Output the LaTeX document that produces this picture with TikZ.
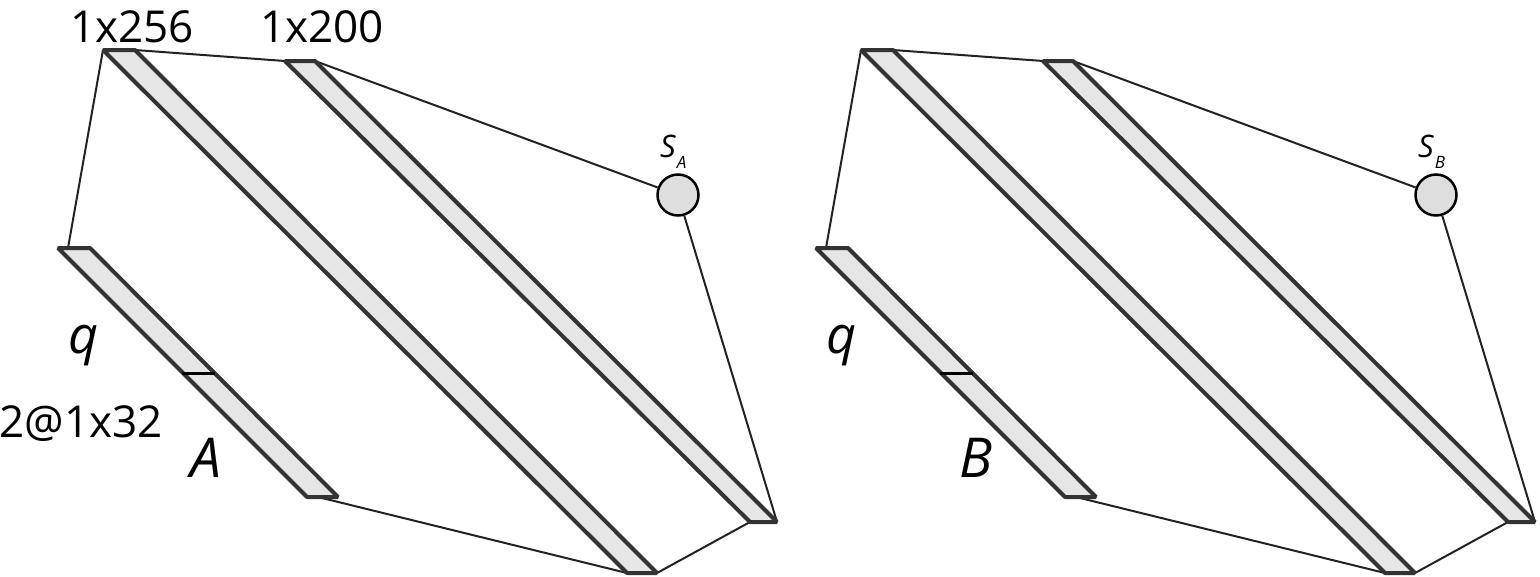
\documentclass[tikz,border=0pt]{standalone}
\usepackage{fontspec}
\setmainfont{Open Sans}
\begin{document}
\begin{tikzpicture}[x=1pt,y=-1pt,
  barbox/.style={draw=barline,fill=barfill,line width=4pt,line join=bevel},
  link/.style={draw=linkcol,line width=2pt},
  divider/.style={draw=black,line width=3pt},
  unit/.style={circle,draw=black,fill=unitfill,line width=2.5pt,minimum size=41pt,inner sep=0pt},
  numlab/.style={anchor=base,inner sep=0pt,font=\fontsize{44}{50}\selectfont},
  varlab/.style={anchor=base,inner sep=0pt,font=\fontsize{52}{56}\selectfont\itshape},
  matlab/.style={anchor=base,inner sep=0pt,font=\fontsize{55}{60}\selectfont\itshape},
  slab/.style={anchor=base west,inner sep=0pt,font=\fontsize{31}{34}\selectfont\itshape}
]
\definecolor{barline}{HTML}{333333}
\definecolor{barfill}{HTML}{E6E6E6}
\definecolor{linkcol}{HTML}{222222}
\definecolor{unitfill}{HTML}{DEDEDE}
\useasboundingbox (0,0) rectangle (1540,576);

\newcommand\drawpanel[3]{%
  \begin{scope}[xshift=#2]
    % bar 1 (input q / matrix)
    \coordinate (#1b1tl) at (58,248);
    \coordinate (#1b1tr) at (90,248);
    \coordinate (#1b1br) at (338,497);
    \coordinate (#1b1bl) at (307,497);
    \coordinate (#1b1top) at (68,248);
    \coordinate (#1b1bot) at (318,497);
    \coordinate (#1dl) at (182,373);
    \coordinate (#1dr) at (215,373);
    % bar 2 (1x256)
    \coordinate (#1b2tl) at (103,50);
    \coordinate (#1b2tr) at (135,50);
    \coordinate (#1b2br) at (657,573);
    \coordinate (#1b2bl) at (627,573);
    % bar 3 (1x200)
    \coordinate (#1b3tl) at (285,61);
    \coordinate (#1b3tr) at (315,61);
    \coordinate (#1b3br) at (777,522);
    \coordinate (#1b3bl) at (750,522);
    % output unit
    \node[unit] (#1s) at (678,195) {};
    \node[slab] (#1slab) at (660,157) {S\kern1pt\raisebox{-11pt}{\fontsize{17}{17}\selectfont #3}};
    % connectors
    \draw[link] (#1b1top) -- (#1b2tl);
    \draw[link] (#1b2tr) -- (#1b3tl);
    \draw[link] (#1b3tr) -- (#1s);
    \draw[link] (#1s) -- (#1b3br);
    \draw[link] (#1b3bl) -- (#1b2br);
    \draw[link] (#1b1bot) -- (#1b2bl);
    % bars
    \draw[barbox] (#1b1tl) -- (#1b1tr) -- (#1b1br) -- (#1b1bl) -- cycle;
    \draw[divider] (#1dl) -- (#1dr);
    \draw[barbox] (#1b2tl) -- (#1b2tr) -- (#1b2br) -- (#1b2bl) -- cycle;
    \draw[barbox] (#1b3tl) -- (#1b3tr) -- (#1b3br) -- (#1b3bl) -- cycle;
    \node[varlab] (#1q) at (84,353) {q};
  \end{scope}}

\drawpanel{a}{0}{A}
\drawpanel{b}{758}{B}

\node[matlab] (amat) at (206,477) {A};
\node[matlab] (bmat) at (976,477) {B};
\node[numlab] (l256) at (132,42) {1x256};
\node[numlab] (l200) at (322,42) {1x200};
\node[numlab] (l32) at (81,437) {2@1x32};
\end{tikzpicture}
\end{document}
